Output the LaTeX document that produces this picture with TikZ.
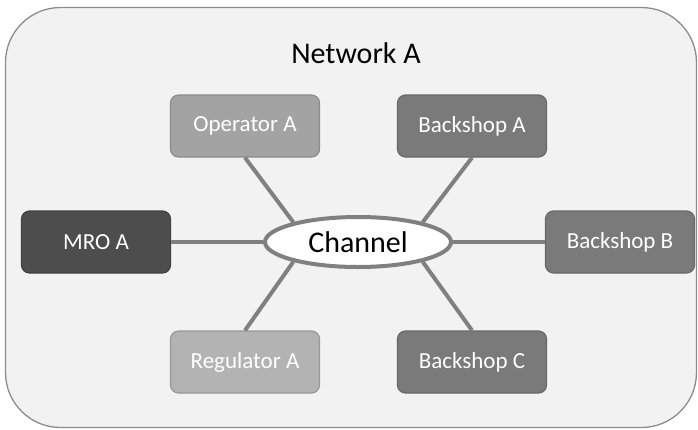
\documentclass[tikz,border=0pt]{standalone}
\usepackage{fontspec}
\setmainfont{Carlito}
\usetikzlibrary{shapes.geometric}
\definecolor{bgfill}{HTML}{F2F2F2}
\definecolor{bgline}{HTML}{8C8C8C}
\definecolor{linkc}{HTML}{808080}
\definecolor{opfill}{HTML}{A3A3A3}
\definecolor{regfill}{HTML}{B3B3B3}
\definecolor{bsfill}{HTML}{7A7A7A}
\definecolor{mrofill}{HTML}{4D4D4D}
\tikzset{
  actor/.style={rectangle, rounded corners=8pt, minimum width=149pt, minimum height=62pt,
    draw=#1!85!black, line width=1.2pt, fill=#1, text=white, inner sep=0pt,
    font=\fontsize{23}{27}\selectfont},
  link/.style={draw=linkc, line width=4pt},
}
\begin{document}
\begin{tikzpicture}[x=1pt,y=-1pt]
\useasboundingbox (0,0) rectangle (698,429);
\node[draw=bgline, line width=1.3pt, fill=bgfill, rounded corners=55pt, rectangle,
  minimum width=691pt, minimum height=420pt, inner sep=0pt] (net) at (351,217.5) {};
\node[font=\fontsize{30}{34}\selectfont, text=black] (title) at (356,53) {Network A};
\node[actor=opfill] (op) at (245,126) {Operator A};
\node[actor=bsfill] (ba) at (472,126) {Backshop A};
\node[actor=mrofill] (mro) at (96,242) {MRO A};
\node[actor=bsfill] (bb) at (620,242) {Backshop B};
\node[actor=regfill] (reg) at (245,362) {Regulator A};
\node[actor=bsfill] (bc) at (472,362) {Backshop C};
\node[ellipse, draw=linkc, line width=4pt, fill=white, minimum width=186pt, minimum height=50pt,
  inner sep=0pt, font=\fontsize{30}{34}\selectfont] (ch) at (358,242) {Channel};
\draw[link] (op.south) -- (ch.163);
\draw[link] (ba.south) -- (ch.17);
\draw[link] (mro.east) -- (ch.west);
\draw[link] (bb.west) -- (ch.east);
\draw[link] (reg.north) -- (ch.197);
\draw[link] (bc.north) -- (ch.343);
\end{tikzpicture}
\end{document}
